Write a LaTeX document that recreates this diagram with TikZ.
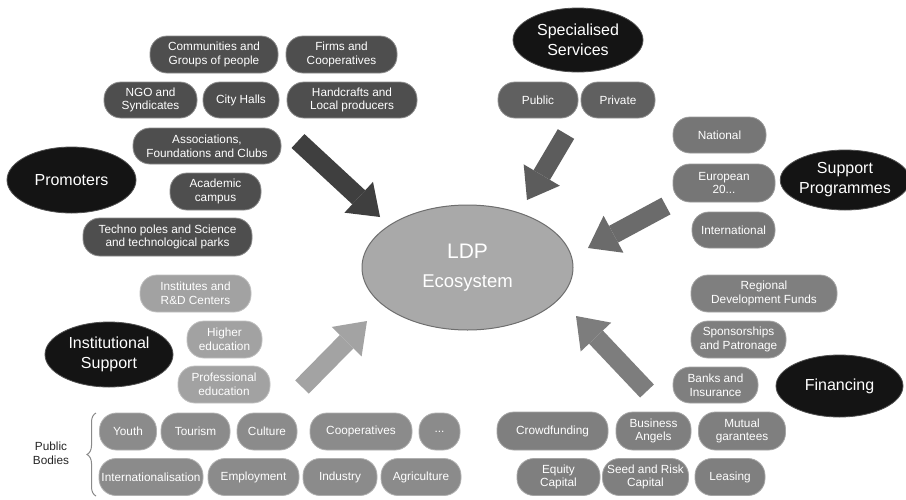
\documentclass[tikz,border=0pt]{standalone}
\usepackage{fontspec}
\setmainfont{Liberation Sans}
\usetikzlibrary{shapes.geometric,arrows.meta,decorations.pathreplacing}
\definecolor{promfill}{HTML}{4E4E4E}
\definecolor{promdraw}{HTML}{8C8C8C}
\definecolor{specfill}{HTML}{606060}
\definecolor{specdraw}{HTML}{909090}
\definecolor{suppfill}{HTML}{767676}
\definecolor{suppdraw}{HTML}{9A9A9A}
\definecolor{finfill}{HTML}{7F7F7F}
\definecolor{findraw}{HTML}{A5A5A5}
\definecolor{pubfill}{HTML}{8B8B8B}
\definecolor{pubdraw}{HTML}{B0B0B0}
\definecolor{instfill}{HTML}{A2A2A2}
\definecolor{instdraw}{HTML}{C0C0C0}
\definecolor{promarrow}{HTML}{3F3F3F}
\definecolor{specarrow}{HTML}{5C5C5C}
\definecolor{supparrow}{HTML}{6B6B6B}
\definecolor{finarrow}{HTML}{7D7D7D}
\definecolor{instarrow}{HTML}{A3A3A3}
\definecolor{keyfill}{HTML}{141414}
\definecolor{keydraw}{HTML}{505050}
\definecolor{ctrfill}{HTML}{A9A9A9}
\definecolor{ctrdraw}{HTML}{6E6E6E}
\definecolor{bracecol}{HTML}{8A8A8A}
\begin{document}
\begin{tikzpicture}[x=1pt,y=-1pt,
  pill/.style={rectangle, rounded corners=17pt, minimum height=37pt, inner sep=0pt,
    align=center, text=white, font=\fontsize{11.8}{13.8}\selectfont, line width=0.8pt},
  prom/.style={pill, fill=promfill, draw=promdraw},
  spec/.style={pill, fill=specfill, draw=specdraw},
  supp/.style={pill, fill=suppfill, draw=suppdraw},
  fin/.style={pill, fill=finfill, draw=findraw},
  pub/.style={pill, fill=pubfill, draw=pubdraw},
  inst/.style={pill, fill=instfill, draw=instdraw},
  key/.style={ellipse, fill=keyfill, draw=keydraw, line width=0.8pt, inner sep=0pt,
    text=white, align=center, font=\fontsize{16}{20}\selectfont},
  bigarrow/.style={line width=19pt, -{Triangle[length=29pt,width=42pt,line width=0pt]}},
]
\useasboundingbox (0,0) rectangle (906,499);
\fill[white] (0,0) rectangle (906,499);

% centre
\node[ellipse, fill=ctrfill, draw=ctrdraw, line width=1pt, minimum width=211pt, minimum height=125pt,
  inner sep=0pt, text=white, align=center] (ldp) at (467.5,267.5)
  {\raisebox{-3pt}{\fontsize{21}{22}\selectfont LDP}\\[15pt]\raisebox{-3pt}{\fontsize{18.5}{22}\selectfont Ecosystem}};

% promoters
\node[key, minimum width=129pt, minimum height=66pt] (promoters) at (71.5,180) {Promoters};
\node[prom, minimum width=128pt] (comm) at (214,54.5) {Communities and\\Groups of people};
\node[prom, minimum width=111pt] (firms) at (341.5,54.5) {Firms and\\Cooperatives};
\node[prom, minimum width=93pt, minimum height=36pt] (ngo) at (150.5,100) {NGO and\\Syndicates};
\node[prom, minimum width=76pt, minimum height=36pt] (city) at (241,100) {City Halls};
\node[prom, minimum width=130pt, minimum height=36pt] (hand) at (352,100) {Handcrafts and\\Local producers};
\node[prom, minimum width=148pt, minimum height=36pt] (assoc) at (207,146) {Associations,\\Foundations and Clubs};
\node[prom, minimum width=91pt] (acad) at (215.5,191.5) {Academic\\campus};
\node[prom, minimum width=169pt, minimum height=38pt] (techno) at (167.5,237) {Techno poles and Science\\and technological parks};

% specialised services
\node[key, minimum width=130pt, minimum height=64pt] (specialised) at (578,40) {Specialised\\Services};
\node[spec, minimum width=80pt, minimum height=36pt] (public) at (538,100) {Public};
\node[spec, minimum width=74pt, minimum height=36pt] (private) at (618,100) {Private};

% support programmes
\node[key, minimum width=124pt, minimum height=60pt] (support) at (845,180) {Support\\Programmes};
\node[supp, minimum width=93pt, minimum height=36pt] (national) at (719.5,135) {National};
\node[supp, minimum width=102pt, minimum height=38pt] (european) at (724,183) {European\\20...};
\node[supp, minimum width=83pt, minimum height=36pt] (intl) at (733.5,230) {International};

% institutional support
\node[key, minimum width=128pt, minimum height=65pt] (institutional) at (109,354.5) {Institutional\\Support};
\node[inst, minimum width=111pt] (institutes) at (195.5,293.5) {Institutes and\\R\&D Centers};
\node[inst, minimum width=75pt] (higher) at (224.5,339.5) {Higher\\education};
\node[inst, minimum width=92pt] (profed) at (224,384.5) {Professional\\education};

% public bodies
\node[align=center, text=black!85, font=\fontsize{11.8}{13.8}\selectfont] (pbodies) at (51,453) {Public\\Bodies};
\coordinate (braceTop) at (96,413);
\coordinate (braceBot) at (96,496);
\draw[bracecol, line width=1pt, decorate, decoration={brace, amplitude=9pt, aspect=0.5}] (braceBot) -- (braceTop);
\node[pub, minimum width=57pt] (youth) at (128,431.5) {Youth};
\node[pub, minimum width=69pt] (tourism) at (195.5,431.5) {Tourism};
\node[pub, minimum width=60pt] (culture) at (267,431.5) {Culture};
\node[pub, minimum width=102pt] (coop) at (361,431.5) {Cooperatives};
\node[pub, minimum width=41pt] (dots) at (439.5,431.5) {...};
\node[pub, minimum width=104pt] (internat) at (151,477) {Internationalisation};
\node[pub, minimum width=91pt] (employ) at (253.5,477) {Employment};
\node[pub, minimum width=74pt] (industry) at (340,477) {Industry};
\node[pub, minimum width=80pt] (agri) at (421,477) {Agriculture};

% financing
\node[key, minimum width=127pt, minimum height=62pt] (financing) at (839.5,386) {Financing};
\node[fin, minimum width=146pt] (regional) at (764,293.5) {Regional\\Development Funds};
\node[fin, minimum width=95pt] (sponsor) at (738.5,339.5) {Sponsorships\\and Patronage};
\node[fin, minimum width=85pt, minimum height=36pt] (banks) at (715.5,385) {Banks and\\Insurance};
\node[fin, minimum width=111pt, minimum height=38pt] (crowd) at (552.5,431) {Crowdfunding};
\node[fin, minimum width=75pt, minimum height=38pt] (angels) at (653.5,431) {Business\\Angels};
\node[fin, minimum width=87pt, minimum height=38pt] (mutual) at (742,431) {Mutual\\garantees};
\node[fin, minimum width=83pt] (equity) at (558.5,477) {Equity\\Capital};
\node[fin, minimum width=86pt] (seed) at (645.5,477) {Seed and Risk\\Capital};
\node[fin, minimum width=70pt] (leasing) at (730,477) {Leasing};

% arrows
\coordinate (promTail) at (298,141);
\coordinate (promTip) at (380,217);
\coordinate (specTail) at (566,134);
\coordinate (specTip) at (527,200);
\coordinate (suppTail) at (666,206);
\coordinate (suppTip) at (588,248);
\coordinate (finTail) at (647,391);
\coordinate (finTip) at (576,316);
\coordinate (instTail) at (302,387);
\coordinate (instTip) at (367,321);
\draw[bigarrow, promarrow] (promTail) -- (promTip);
\draw[bigarrow, specarrow] (specTail) -- (specTip);
\draw[bigarrow, supparrow] (suppTail) -- (suppTip);
\draw[bigarrow, finarrow] (finTail) -- (finTip);
\draw[bigarrow, instarrow] (instTail) -- (instTip);
\end{tikzpicture}
\end{document}
